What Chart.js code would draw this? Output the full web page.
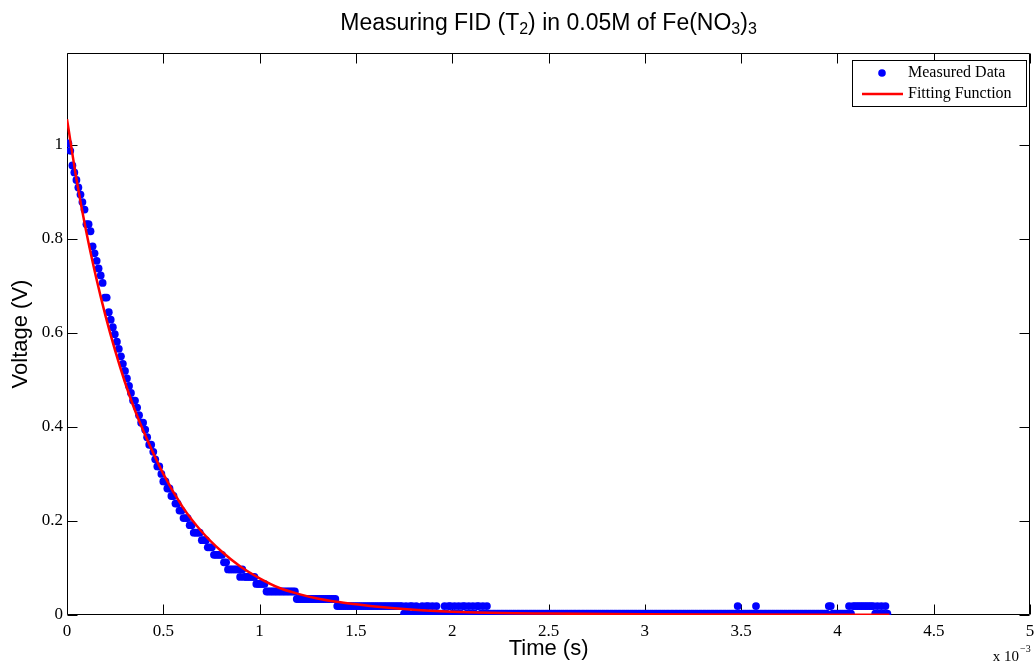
<!DOCTYPE html>
<html><head><meta charset="utf-8">
<style>html,body{margin:0;padding:0;background:#fff}canvas{display:block}</style>
<script src="https://cdn.jsdelivr.net/npm/chart.js@4.4.1/dist/chart.umd.min.js"></script>
</head><body>
<canvas id="c" width="1034" height="665"></canvas>
<script>
// Sample times in microseconds (axis shows milliseconds, "x 10^-3" s)
const timeUs = [
7,17,28,38,49,59,70,80,91,101,
112,122,133,143,154,164,175,185,196,206,
217,227,238,248,259,269,280,290,301,311,
322,332,343,353,364,374,385,395,406,416,
427,437,448,458,469,479,490,500,511,521,
532,542,553,563,574,584,595,605,616,626,
637,647,658,668,679,689,700,710,721,731,
742,752,763,773,784,794,805,815,826,836,
847,857,868,878,889,899,910,920,931,941,
952,962,973,983,994,1004,1015,1025,1036,1046,
1057,1067,1078,1088,1099,1109,1120,1130,1141,1151,
1162,1172,1183,1193,1204,1214,1225,1235,1246,1256,
1267,1277,1288,1298,1309,1319,1330,1340,1351,1361,
1372,1382,1393,1403,1414,1424,1435,1445,1456,1466,
1477,1487,1498,1508,1519,1529,1540,1550,1561,1571,
1582,1592,1603,1613,1624,1634,1645,1655,1666,1676,
1687,1697,1708,1718,1729,1739,1750,1760,1771,1781,
1792,1802,1813,1823,1834,1844,1855,1865,1876,1886,
1897,1907,1918,1928,1939,1949,1960,1970,1981,1991,
2002,2012,2023,2033,2044,2054,2065,2075,2086,2096,
2107,2117,2128,2138,2149,2159,2170,2180,2191,2201,
2212,2222,2233,2243,2254,2264,2275,2285,2296,2306,
2317,2327,2338,2348,2359,2369,2380,2390,2401,2411,
2422,2432,2443,2453,2464,2474,2485,2495,2506,2516,
2527,2537,2548,2558,2569,2579,2590,2600,2611,2621,
2632,2642,2653,2663,2674,2684,2695,2705,2716,2726,
2737,2747,2758,2768,2779,2789,2800,2810,2821,2831,
2842,2852,2863,2873,2884,2894,2905,2915,2926,2936,
2947,2957,2968,2978,2989,2999,3010,3020,3031,3041,
3052,3062,3073,3083,3094,3104,3115,3125,3136,3146,
3157,3167,3178,3188,3199,3209,3220,3230,3241,3251,
3262,3272,3283,3293,3304,3314,3325,3335,3346,3356,
3367,3377,3388,3398,3409,3419,3430,3440,3451,3461,
3472,3482,3493,3503,3514,3524,3535,3545,3556,3566,
3577,3587,3598,3608,3619,3629,3640,3650,3661,3671,
3682,3692,3703,3713,3724,3734,3745,3755,3766,3776,
3787,3797,3808,3818,3829,3839,3850,3860,3871,3881,
3892,3902,3913,3923,3934,3944,3955,3965,3976,3986,
3997,4007,4018,4028,4039,4049,4060,4070,4081,4091,
4102,4112,4123,4133,4144,4154,4165,4175,4186,4196,
4207,4217,4228,4238,4249,4259
];
// Measured voltage (V), one per sample time
const voltage = [
1.003,0.987,0.956,0.941,0.925,0.909,0.894,0.878,0.862,0.831,
0.831,0.816,0.784,0.769,0.753,0.737,0.722,0.706,0.675,0.675,
0.644,0.628,0.612,0.597,0.581,0.566,0.550,0.534,0.519,0.503,
0.487,0.472,0.456,0.456,0.441,0.425,0.409,0.409,0.394,0.378,
0.362,0.362,0.347,0.331,0.316,0.316,0.300,0.284,0.284,0.269,
0.269,0.253,0.253,0.237,0.237,0.222,0.222,0.206,0.206,0.206,
0.191,0.191,0.175,0.175,0.175,0.175,0.159,0.159,0.159,0.144,
0.144,0.144,0.128,0.128,0.128,0.128,0.128,0.112,0.112,0.097,
0.097,0.097,0.097,0.097,0.097,0.081,0.097,0.081,0.081,0.081,
0.081,0.081,0.081,0.066,0.066,0.066,0.066,0.066,0.050,0.050,
0.050,0.050,0.050,0.050,0.050,0.050,0.050,0.050,0.050,0.050,
0.050,0.050,0.050,0.034,0.034,0.034,0.034,0.034,0.034,0.034,
0.034,0.034,0.034,0.034,0.034,0.034,0.034,0.034,0.034,0.034,
0.034,0.034,0.034,0.019,0.019,0.019,0.019,0.019,0.019,0.019,
0.019,0.019,0.019,0.019,0.019,0.019,0.019,0.019,0.019,0.019,
0.019,0.019,0.019,0.019,0.019,0.019,0.019,0.019,0.019,0.019,
0.019,0.019,0.019,0.019,0.019,0.019,0.003,0.019,0.003,0.019,
0.019,0.003,0.019,0.003,0.003,0.019,0.003,0.019,0.019,0.003,
0.019,0.003,0.019,0.003,0.003,0.003,0.019,0.003,0.019,0.019,
0.003,0.019,0.003,0.019,0.003,0.019,0.019,0.003,0.019,0.003,
0.019,0.003,0.019,0.019,0.003,0.019,0.003,0.019,0.003,0.003,
0.003,0.003,0.003,0.003,0.003,0.003,0.003,0.003,0.003,0.003,
0.003,0.003,0.003,0.003,0.003,0.003,0.003,0.003,0.003,0.003,
0.003,0.003,0.003,0.003,0.003,0.003,0.003,0.003,0.003,0.003,
0.003,0.003,0.003,0.003,0.003,0.003,0.003,0.003,0.003,0.003,
0.003,0.003,0.003,0.003,0.003,0.003,0.003,0.003,0.003,0.003,
0.003,0.003,0.003,0.003,0.003,0.003,0.003,0.003,0.003,0.003,
0.003,0.003,0.003,0.003,0.003,0.003,0.003,0.003,0.003,0.003,
0.003,0.003,0.003,0.003,0.003,0.003,0.003,0.003,0.003,0.003,
0.003,0.003,0.003,0.003,0.003,0.003,0.003,0.003,0.003,0.003,
0.003,0.003,0.003,0.003,0.003,0.003,0.003,0.003,0.003,0.003,
0.003,0.003,0.003,0.003,0.003,0.003,0.003,0.003,0.003,0.003,
0.003,0.003,0.003,0.003,0.003,0.003,0.003,0.003,0.003,0.003,
0.003,0.019,0.003,0.003,0.003,0.003,0.003,0.003,0.003,0.003,
0.019,0.003,0.003,0.003,0.003,0.003,0.003,0.003,0.003,0.003,
0.003,0.003,0.003,0.003,0.003,0.003,0.003,0.003,0.003,0.003,
0.003,0.003,0.003,0.003,0.003,0.003,0.003,0.003,0.003,0.003,
0.003,0.003,0.003,0.003,0.003,0.003,0.019,0.019,0.003,0.003,
0.003,0.003,0.003,0.003,0.003,0.003,0.019,0.003,0.019,0.019,
0.019,0.019,0.019,0.019,0.019,0.019,0.019,0.019,0.019,0.003,
0.019,0.003,0.019,0.003,0.019,0.003
];
// Fitting function
const fitTimeUs = [0,50,100,150,200,250,300,350,400,500,600,700,800,900,1000,1100,1200,1300,1400,1500,1600,1800,2000,2250,2500,3000,3500,4000,4270];
const fitVoltage = [1.054,0.925,0.815,0.72,0.636,0.562,0.496,0.438,0.388,0.300,0.230,0.177,0.136,0.103,0.078,0.058,0.045,0.035,0.028,0.023,0.018,0.011,0.007,0.004,0.003,0.0015,0.001,0.0006,0.0005];
// Axis ticks
const xTicksUs = [0,500,1000,1500,2000,2500,3000,3500,4000,4500,5000];
const yTicks = [0,0.2,0.4,0.6,0.8,1];
const seriesNames = ['Measured Data','Fitting Function'];

const SANS = '"Liberation Sans", Arial, Helvetica, sans-serif';
const SERIF = '"Liberation Serif", "Times New Roman", serif';
const TICKLEN = 10;

const framePlugin = {
  id: 'frame',
  beforeDatasetsDraw(chart) {
    const {ctx, chartArea: a, scales: {x, y}} = chart;
    ctx.save();
    ctx.strokeStyle = '#000';
    ctx.lineWidth = 1;
    const L = Math.round(a.left) + 0.5, R = Math.round(a.right) - 0.5;
    const T = Math.round(a.top) + 0.5, B = Math.round(a.bottom) - 0.5;
    ctx.beginPath();
    ctx.rect(L, T, R - L, B - T);
    x.ticks.forEach(t => {
      const px = Math.round(x.getPixelForValue(t.value)) + 0.5;
      ctx.moveTo(px, B); ctx.lineTo(px, B - TICKLEN);
      ctx.moveTo(px, T); ctx.lineTo(px, T + TICKLEN);
    });
    y.ticks.forEach(t => {
      const py = Math.round(y.getPixelForValue(t.value)) + 0.5;
      ctx.moveTo(L, py); ctx.lineTo(L + TICKLEN, py);
      ctx.moveTo(R, py); ctx.lineTo(R - TICKLEN, py);
    });
    ctx.stroke();
    ctx.restore();
  },
  afterDraw(chart) {
    const {ctx, chartArea: a} = chart;
    ctx.save();
    ctx.fillStyle = '#000';
    // Title with subscripts
    const parts = [
      {t: 'Measuring FID (T', s: false}, {t: '2', s: true},
      {t: ') in 0.05M of Fe(NO', s: false}, {t: '3', s: true},
      {t: ')', s: false}, {t: '3', s: true}
    ];
    const mainF = '23px ' + SANS, subF = '16px ' + SANS;
    let total = 0;
    parts.forEach(p => { ctx.font = p.s ? subF : mainF; p.w = ctx.measureText(p.t).width; total += p.w; });
    let cx = (a.left + a.right) / 2 - total / 2;
    ctx.textBaseline = 'alphabetic';
    ctx.textAlign = 'left';
    parts.forEach(p => {
      ctx.font = p.s ? subF : mainF;
      ctx.fillText(p.t, cx, p.s ? 34 : 30);
      cx += p.w;
    });
    // exponent label
    ctx.font = '15px ' + SERIF;
    ctx.textAlign = 'right';
    ctx.fillText('x 10', 1019, 661);
    ctx.font = '10px ' + SERIF;
    ctx.textAlign = 'left';
    ctx.fillText('\u22123', 1020, 652);
    // Legend
    const bx = 852, by = 60, bw = 174, bh = 46;
    ctx.fillStyle = '#fff';
    ctx.fillRect(bx, by, bw, bh);
    ctx.strokeStyle = '#000';
    ctx.lineWidth = 1;
    ctx.strokeRect(bx + 0.5, by + 0.5, bw, bh);
    const r1 = by + 13, r2 = by + 34;
    ctx.fillStyle = '#0000ff';
    ctx.beginPath(); ctx.arc(882, r1, 3.8, 0, Math.PI * 2); ctx.fill();
    ctx.strokeStyle = '#ff0000'; ctx.lineWidth = 2.5;
    ctx.beginPath(); ctx.moveTo(862, r2); ctx.lineTo(903, r2); ctx.stroke();
    ctx.fillStyle = '#000';
    ctx.font = '16px ' + SERIF;
    ctx.textBaseline = 'middle';
    ctx.fillText(seriesNames[0], 908, r1);
    ctx.fillText(seriesNames[1], 908, r2);
    ctx.restore();
  }
};

new Chart(document.getElementById('c'), {
  type: 'scatter',
  data: {
    datasets: [
      {
        label: seriesNames[1],
        type: 'line',
        data: fitTimeUs.map((t, i) => ({x: t, y: fitVoltage[i]})),
        borderColor: '#ff0000',
        borderWidth: 2.5,
        pointRadius: 0,
        fill: false,
        cubicInterpolationMode: 'monotone',
        order: 0
      },
      {
        label: seriesNames[0],
        data: timeUs.map((t, i) => ({x: t, y: voltage[i]})),
        backgroundColor: '#0000ff',
        borderColor: '#0000ff',
        borderWidth: 0,
        pointRadius: 3.9,
        pointHoverRadius: 3.9,
        order: 1
      }
    ]
  },
  options: {
    responsive: false,
    animation: false,
    events: [],
    devicePixelRatio: 1,
    layout: {padding: {top: 53, right: 2, left: 0, bottom: 0}},
    plugins: {legend: {display: false}, tooltip: {enabled: false}, title: {display: false}},
    scales: {
      x: {
        type: 'linear', position: 'bottom', min: 0, max: 5000,
        grid: {display: false, drawTicks: false}, border: {display: false},
        afterBuildTicks: s => { s.ticks = xTicksUs.map(v => ({value: v})); },
        afterFit: s => { s.height = 50; s.paddingLeft = 0; s.paddingRight = 0; },
        ticks: {
          font: {family: SERIF, size: 17}, color: '#000', padding: 6,
          maxRotation: 0, autoSkip: false,
          callback: v => String(v / 1000)
        },
        title: {display: true, text: 'Time (s)', color: '#000', font: {family: SANS, size: 22}, padding: {top: 0, bottom: 3}}
      },
      y: {
        type: 'linear', position: 'left', min: 0, max: 1.195,
        grid: {display: false, drawTicks: false}, border: {display: false},
        afterBuildTicks: s => { s.ticks = yTicks.map(v => ({value: v})); },
        afterFit: s => { s.width = 67; s.paddingTop = 0; s.paddingBottom = 0; },
        ticks: {
          font: {family: SERIF, size: 17}, color: '#000', padding: 4,
          callback: v => String(Math.round(v * 10) / 10)
        },
        title: {display: true, text: 'Voltage (V)', color: '#000', font: {family: SANS, size: 22}, padding: {top: 8, bottom: 0}}
      }
    }
  },
  plugins: [framePlugin]
});
</script>
</body></html>
